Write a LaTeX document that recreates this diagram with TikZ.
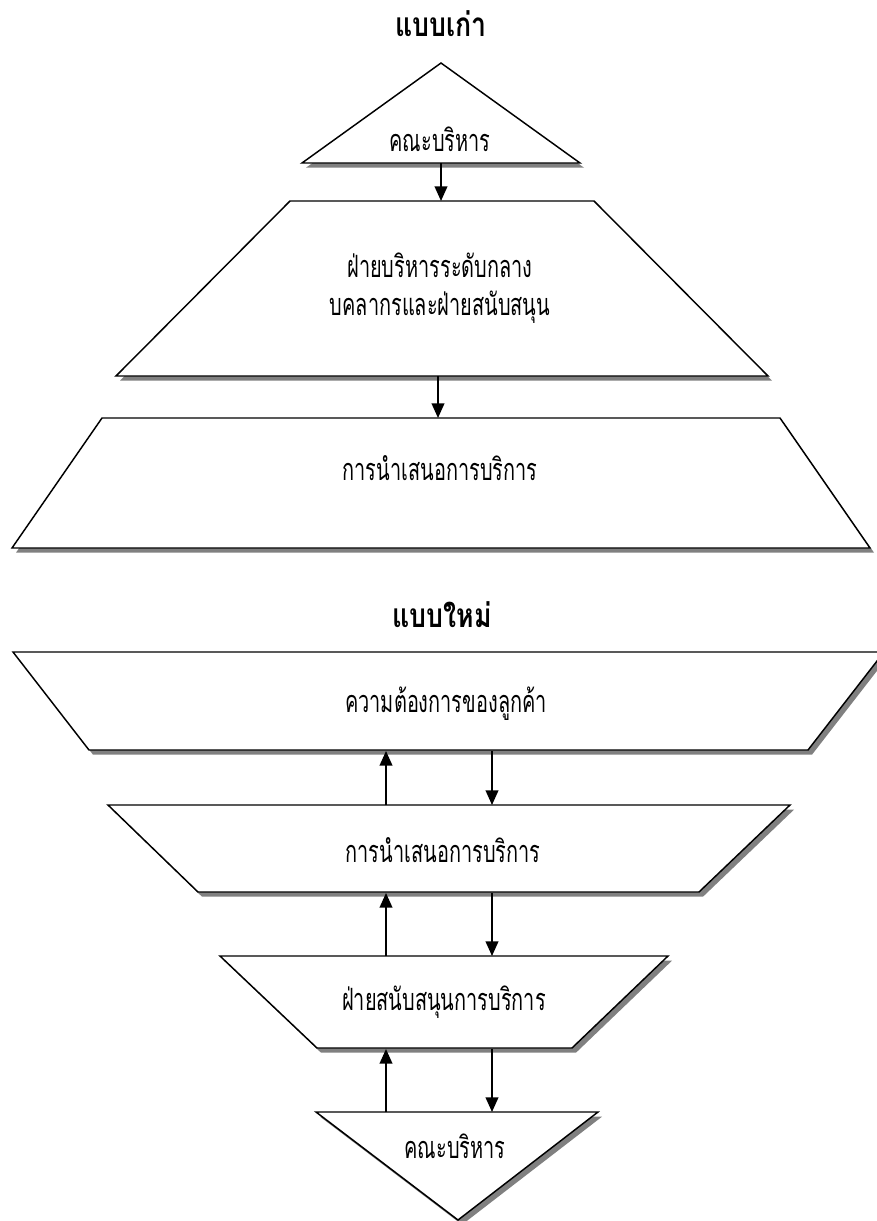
\documentclass[tikz,border=0pt]{standalone}
\usepackage{fontspec}
\newfontfamily\thaifont[Script=Thai,FakeStretch=0.65]{Loma}
\newfontfamily\thaihead[Script=Thai,FakeStretch=0.8]{Loma}
\usetikzlibrary{arrows.meta,shadows}
\tikzset{
  blk/.style={draw, fill=white, line width=1.1pt, line join=miter,
    drop shadow={shadow xshift=3pt, shadow yshift=-3.5pt, fill=black!50, opacity=1}},
  lbl/.style={font=\thaifont\fontsize{23}{27}\selectfont, anchor=base, inner sep=0pt},
  ttl/.style={lbl, font=\thaihead\bfseries\fontsize{25}{29}\selectfont},
  flow/.style={-{Triangle[length=11pt,width=9.5pt]}, line width=1.4pt},
}
\begin{document}
\begin{tikzpicture}[x=0.75pt,y=-0.75pt]
    \useasboundingbox (0,0) rectangle (876,1221);
    % old model
    \node[ttl] (oldtitle) at (441,36) {แบบเก่า};
    \draw[blk] (441,63) -- (580,163) -- (302,163) -- cycle;
    \draw[blk] (290,201) -- (594,201) -- (768,376) -- (116,376) -- cycle;
    \draw[blk] (102,418) -- (780,418) -- (870,548) -- (12,548) -- cycle;
    \node[lbl] (oldboard) at (440,151) {คณะบริหาร};
    \node[lbl] (oldmidA) at (440,277) {ฝ่ายบริหารระดับกลาง};
    \node[lbl] (oldmidB) at (440,315) {บคลากรและฝ่ายสนับสนุน};
    \node[lbl] (oldsvc) at (440,480) {การนำเสนอการบริการ};
    \coordinate (oldboardB) at (441,163);
    \coordinate (oldmidT) at (441,201);
    \coordinate (oldmidBt) at (438,376);
    \coordinate (oldsvcT) at (438,418);
    \draw[flow] (oldboardB) -- (oldmidT);
    \draw[flow] (oldmidBt) -- (oldsvcT);
    % new model
    \node[ttl] (newtitle) at (442,627) {แบบใหม่};
    \draw[blk] (13,652) -- (884,652) -- (808,750) -- (89,750) -- cycle;
    \draw[blk] (108,805) -- (790,805) -- (699,892) -- (198,892) -- cycle;
    \draw[blk] (220,956) -- (668,956) -- (572,1048) -- (317,1048) -- cycle;
    \draw[blk] (316,1112) -- (598,1112) -- (458,1220) -- cycle;
    \node[lbl] (cust) at (446,712) {ความต้องการของลูกค้า};
    \node[lbl] (offer) at (443,862) {การนำเสนอการบริการ};
    \node[lbl] (supp) at (444,1010) {ฝ่ายสนับสนุนการบริการ};
    \node[lbl] (board) at (455,1158) {คณะบริหาร};
    \coordinate (custBu) at (386,751);
    \coordinate (custBd) at (492,751);
    \coordinate (offerTu) at (386,805);
    \coordinate (offerTd) at (492,805);
    \coordinate (offerBu) at (386,893);
    \coordinate (offerBd) at (492,893);
    \coordinate (suppTu) at (386,956);
    \coordinate (suppTd) at (492,956);
    \coordinate (suppBu) at (386,1049);
    \coordinate (suppBd) at (492,1049);
    \coordinate (boardTu) at (386,1112);
    \coordinate (boardTd) at (492,1112);
    \draw[flow] (offerTu) -- (custBu);
    \draw[flow] (custBd) -- (offerTd);
    \draw[flow] (suppTu) -- (offerBu);
    \draw[flow] (offerBd) -- (suppTd);
    \draw[flow] (boardTu) -- (suppBu);
    \draw[flow] (suppBd) -- (boardTd);
\end{tikzpicture}
\end{document}
